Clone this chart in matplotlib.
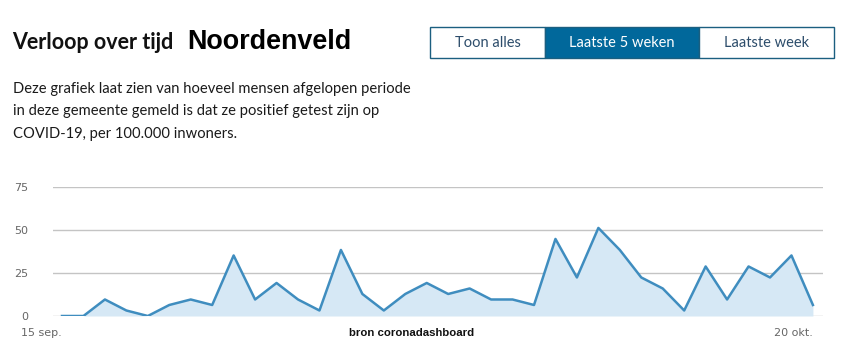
import matplotlib
matplotlib.use('Agg')
import matplotlib.pyplot as plt
from matplotlib.patches import Rectangle
import matplotlib.transforms as mtransforms

# positief geteste mensen per 100.000 inwoners, 15 sep. t/m 20 okt.
dagen = list(range(36))
waarden = [0, 0, 9.6, 3.2, 0, 6.4, 9.6, 6.4, 35.2, 9.6, 19.2, 9.6, 3.2, 38.4, 12.8, 3.2,
           12.8, 19.2, 12.8, 16.0, 9.6, 9.6, 6.4, 44.8, 22.4, 51.2, 38.4, 22.4, 16.0, 3.2,
           28.8, 9.6, 28.8, 22.4, 35.2, 6.4]
y_ticks = [0, 25, 50, 75]
datum_labels = ['15 sep.', '20 okt.']
knoppen = ['Toon alles', 'Laatste 5 weken', 'Laatste week']

lijn_kleur = '#3f8dbf'
vul_kleur = '#d6e8f5'
blauw = '#01689b'

fig = plt.figure(figsize=(8.5, 3.54), dpi=100)
W, H = 850, 354

def fx(px):
    return px / W

def fy(py):
    return 1 - py / H

# titel
fig.text(fx(12), fy(49), 'Verloop over tijd', family='Lato', weight='bold',
         fontsize=15.5, color='#111111', va='baseline')
fig.text(fx(187), fy(49), 'Noordenveld', family='Liberation Sans', weight='bold',
         fontsize=19.4, color='#000000', va='baseline')

# uitleg
regels = ['Deze grafiek laat zien van hoeveel mensen afgelopen periode',
          'in deze gemeente gemeld is dat ze positief getest zijn op',
          'COVID-19, per 100.000 inwoners.']
for i, r in enumerate(regels):
    fig.text(fx(13), fy(93 + i * 22.5), r, family='Lato', fontsize=10.6,
             color='#1a1a1a', va='baseline')

# knoppen
grenzen = [430, 545, 699, 834]
for i, k in enumerate(knoppen):
    x0, x1 = grenzen[i], grenzen[i + 1]
    actief = i == 1
    fig.patches.append(Rectangle((fx(x0), fy(58)), fx(x1 - x0), 31 / H,
                                 transform=fig.transFigure,
                                 facecolor=blauw if actief else 'white',
                                 edgecolor='#1b5f80', lw=1.0))
    fig.text(fx((x0 + x1) / 2), fy(43), k, family='Lato', fontsize=10.5,
             color='white' if actief else '#2d4d6b', ha='center', va='center')

# grafiek
ax = fig.add_axes([fx(53), fy(316), fx(823 - 53), (316 - 187) / H])
ax.fill_between(dagen, waarden, 0, color=vul_kleur, lw=0)
ax.plot(dagen, waarden, color=lijn_kleur, lw=1.8)
ax.set_xlim(-0.42, 35.47)
ax.set_ylim(0, 75)
ax.set_yticks(y_ticks)
ax.set_xticks([])
ax.grid(axis='y', color='#c4c4c4', lw=1)
ax.set_axisbelow(True)
for s in ax.spines.values():
    s.set_visible(False)
ax.tick_params(axis='y', length=0, pad=18, labelsize=8, labelcolor='#666666')

trans = mtransforms.blended_transform_factory(ax.transData, fig.transFigure)
ax.text(dagen[0], fy(336), datum_labels[0], transform=trans, ha='right',
        va='baseline', fontsize=8, color='#666666')
ax.text(dagen[-1], fy(336), datum_labels[1], transform=trans, ha='right',
        va='baseline', fontsize=8, color='#666666')

fig.text(fx(411.5), fy(336.5), 'bron coronadashboard', family='Liberation Sans',
         weight='bold', fontsize=8.2, ha='center', va='baseline', color='#111111')

fig.savefig('out.png', dpi=100)
